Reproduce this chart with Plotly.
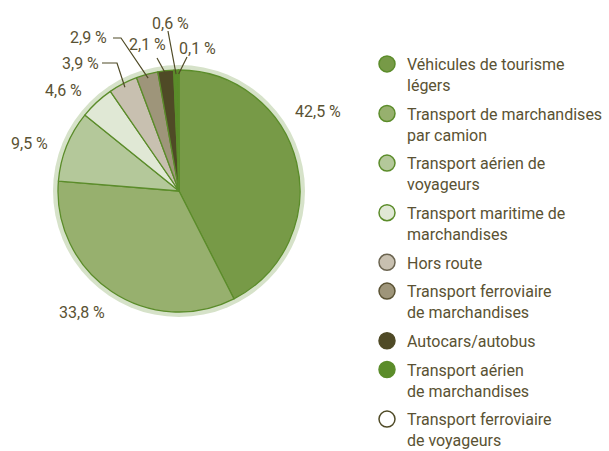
import math
import plotly.graph_objects as go

# ---------------- data ----------------
categories = [
    "Véhicules de tourisme légers",
    "Transport de marchandises par camion",
    "Transport aérien de voyageurs",
    "Transport maritime de marchandises",
    "Hors route",
    "Transport ferroviaire de marchandises",
    "Autocars/autobus",
    "Transport aérien de marchandises",
    "Transport ferroviaire de voyageurs",
]
legend_text = [
    "Véhicules de tourisme<br>légers",
    "Transport de marchandises<br>par camion",
    "Transport aérien de<br>voyageurs",
    "Transport maritime de<br>marchandises",
    "Hors route",
    "Transport ferroviaire<br>de marchandises",
    "Autocars/autobus",
    "Transport aérien<br>de marchandises",
    "Transport ferroviaire<br>de voyageurs",
]
shares = [42.5, 33.8, 9.5, 4.6, 3.9, 2.9, 2.1, 0.6, 0.1]
share_labels = ["42,5 %", "33,8 %", "9,5 %", "4,6 %", "3,9 %", "2,9 %", "2,1 %", "0,6 %", "0,1 %"]

# ---------------- style ----------------
W, H = 609, 451
FONT = "Roboto, sans-serif"
TXT = "#5a5233"
EDGE = "#5b8c2a"
colors = ["#779a47", "#97b06e", "#b4c89a", "#e0e8d5", "#c8c0b0",
          "#9e957a", "#4f4a26", "#5b8c2a", "#ffffff"]
legend_edge = [EDGE, EDGE, EDGE, EDGE, "#6b6450", "#5a5233", "#4f4a26", "#5b8c2a", "#4f4a26"]
CX, CY, R, RING = 179, 191, 121, 126

# label text positions (px) and leader start/elbow (px) per slice; None = no leader
label_pos = [(318, 112), (82, 312), (29, 143), (63, 90), (80, 64),
             (89, 38), (147, 45), (170, 23), (197, 48)]
leader_start = [None, None, None, None, (102, 63), (113, 38), (157, 58), (168, 31), (187, 57)]
leader_elbow = [None, None, None, None, (117, 63), (121, 38), None, None, None]
LEADER_R = 117


def px(x):
    return x / W


def py(y):
    return 1 - y / H


fig = go.Figure()

# outer light ring
fig.add_trace(go.Pie(
    values=[1], labels=["ring"], marker=dict(colors=["#d6e2c9"], line=dict(width=0)),
    textinfo="none", hoverinfo="skip", showlegend=False, sort=False,
    domain=dict(x=[px(CX - RING), px(CX + RING)], y=[py(CY + RING), py(CY - RING)]),
))

fig.add_trace(go.Pie(
    values=shares, labels=categories, sort=False, direction="clockwise", rotation=0,
    marker=dict(colors=colors, line=dict(color=EDGE, width=1.3)),
    textinfo="none", showlegend=False,
    domain=dict(x=[px(CX - R), px(CX + R)], y=[py(CY + R), py(CY - R)]),
))

# legend entries (circle markers)
for i, name in enumerate(legend_text):
    fig.add_trace(go.Scatter(
        x=[None], y=[None], mode="markers", name=name, legendgroup=str(i),
        marker=dict(symbol="circle", size=17, color=colors[i],
                    line=dict(color=legend_edge[i], width=1.5)),
    ))

# labels + leader lines derived from slice angles
total = sum(shares)
cum = 0.0
shapes = []
annotations = []
for i, v in enumerate(shares):
    mid = (cum + v / 2) / total * 2 * math.pi
    cum += v
    ax = CX + LEADER_R * math.sin(mid)
    ay = CY - LEADER_R * math.cos(mid)
    lx, ly = label_pos[i]
    annotations.append(dict(x=px(lx), y=py(ly), xref="paper", yref="paper",
                            xanchor="center", yanchor="middle",
                            text=share_labels[i], showarrow=False,
                            font=dict(family=FONT, size=16, color=TXT)))
    if leader_start[i] is not None:
        pts = [leader_start[i]]
        if leader_elbow[i] is not None:
            pts.append(leader_elbow[i])
        pts.append((ax, ay))
        path = "M " + " L ".join(f"{px(a):.5f},{py(b):.5f}" for a, b in pts)
        shapes.append(dict(type="path", path=path, xref="paper", yref="paper",
                           line=dict(color="#4f4a26", width=1.2)))

fig.update_layout(
    width=W, height=H,
    margin=dict(l=0, r=0, t=0, b=0, autoexpand=False),
    paper_bgcolor="white", plot_bgcolor="white",
    xaxis=dict(visible=False), yaxis=dict(visible=False),
    font=dict(family=FONT, color=TXT),
    showlegend=True,
    legend=dict(x=px(367), y=py(47), xanchor="left", yanchor="top",
                valign="top", tracegroupgap=5, itemclick=False,
                font=dict(family=FONT, size=16, color=TXT),
                bgcolor="rgba(0,0,0,0)"),
    shapes=shapes, annotations=annotations,
)

fig.write_html("out.html", config={"displayModeBar": False},
               post_script="document.body.style.margin='0';document.body.style.overflow='hidden';")
